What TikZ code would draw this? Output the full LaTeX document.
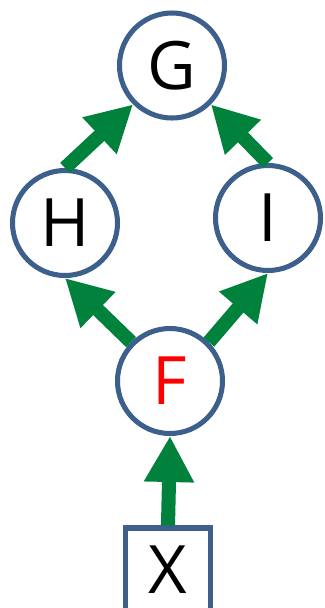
\documentclass[tikz,border=0pt]{standalone}
\usepackage{fontspec}
\setmainfont{Open Sans}
\usetikzlibrary{arrows.meta}

\definecolor{nodeblue}{RGB}{60,95,140}
\definecolor{arrowgreen}{RGB}{0,130,60}

\begin{document}
\begin{tikzpicture}[
  x=0.03cm, y=-0.03cm,
  var/.style={circle, draw=nodeblue, fill=white, line width=4.3pt, minimum size=3.15cm, inner sep=0pt, font=\fontsize{57}{60}\selectfont},
  obs/.style={rectangle, draw=nodeblue, fill=white, line width=4.3pt, minimum width=2.55cm, minimum height=2.49cm, inner sep=0pt, font=\fontsize{57}{60}\selectfont},
  link/.style={arrowgreen, line width=12pt, -{Triangle[length=1.38cm, width=1.41cm]}}
]
\useasboundingbox (0,0) rectangle (324,608);

\node[var] (G) at (172,65.5) {G};
\node[var] (H) at (65,223) {H};
\node[var] (I) at (268,218) {I};
\node[var] (F) at (170,381) {\textcolor{red}{F}};
\node[obs] (X) at (168,569.5) {X};

\draw[link] (X.north) -- (F.south);
\draw[link] (F.north west) -- (H.south);
\draw[link] (F.north east) -- (I.south);
\draw[link] (H.north) -- (G.south west);
\draw[link] (I.north) -- (G.south east);
\end{tikzpicture}
\end{document}
